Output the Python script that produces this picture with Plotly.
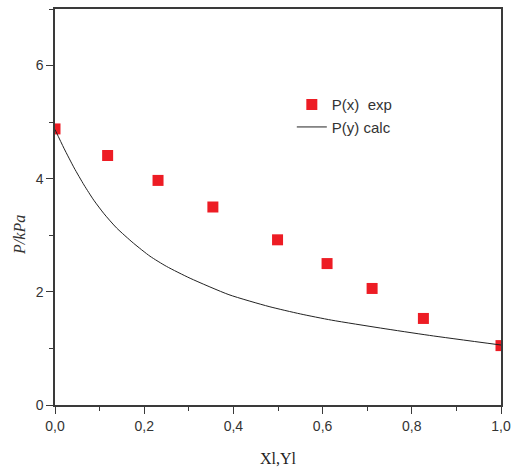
import plotly.graph_objects as go

# Experimental liquid-phase pressures
x_exp = [0.0, 0.118, 0.231, 0.354, 0.499, 0.610, 0.711, 0.826, 1.0]
p_exp = [4.88, 4.41, 3.97, 3.50, 2.92, 2.50, 2.06, 1.53, 1.05]

# Calculated vapour-phase curve
y_calc = [0.0, 0.02, 0.043, 0.065, 0.087, 0.11, 0.138, 0.176, 0.213, 0.25,
          0.303, 0.39, 0.48, 0.55, 0.62, 0.73, 0.84, 1.0]
p_calc = [4.87, 4.54, 4.19, 3.89, 3.62, 3.38, 3.13, 2.86, 2.63, 2.45,
          2.24, 1.95, 1.74, 1.61, 1.50, 1.36, 1.23, 1.06]

axis_col = "#3a3a3a"
tick_font = dict(family="Liberation Sans, Arial, sans-serif", size=14, color="#333333")

fig = go.Figure()
fig.add_trace(go.Scatter(
    x=x_exp, y=p_exp, mode="markers", name="P(x)  exp",
    marker=dict(symbol="square", size=11, color="#ED1C24",
                line=dict(width=0)),
))
fig.add_trace(go.Scatter(
    x=y_calc, y=p_calc, mode="lines", name="P(y) calc",
    line=dict(color="#222222", width=1, shape="spline", smoothing=0.6),
))

fig.update_layout(
    width=514, height=471,
    margin=dict(l=55, r=13, t=9, b=66),
    paper_bgcolor="white", plot_bgcolor="white",
    separators=", ",
    showlegend=True,
    legend=dict(x=0.531, y=0.80, xanchor="left", yanchor="top",
                bgcolor="rgba(0,0,0,0)",
                font=dict(family="Liberation Sans, Arial, sans-serif", size=15, color="#333333"),
                tracegroupgap=0, itemwidth=30),
    xaxis=dict(
        range=[0, 1], tickvals=[0, 0.2, 0.4, 0.6, 0.8, 1.0], tickformat=".1f",
        automargin=False,
        showgrid=False, zeroline=False,
        showline=True, linecolor=axis_col, linewidth=1.5, mirror=True,
        ticks="outside", ticklen=7, tickwidth=1.2, tickcolor=axis_col,
        minor=dict(dtick=0.1, ticks="outside", ticklen=4, tickcolor=axis_col, tickwidth=1),
        tickfont=tick_font,
        title=dict(text="Xl,Yl", standoff=20,
                   font=dict(family="Liberation Serif, Times New Roman, serif", size=16, color="#222222")),
    ),
    yaxis=dict(
        range=[0, 7], tickvals=[0, 2, 4, 6],
        automargin=False,
        showgrid=False, zeroline=False,
        showline=True, linecolor=axis_col, linewidth=1.5, mirror=True,
        ticks="outside", ticklen=7, tickwidth=1.2, tickcolor=axis_col,
        minor=dict(dtick=1, ticks="outside", ticklen=4, tickcolor=axis_col, tickwidth=1),
        tickfont=tick_font,
    ),
    annotations=[dict(
        text="<i>P/kPa</i>", textangle=-90, showarrow=False,
        xref="paper", yref="paper", x=-0.078, y=0.43,
        xanchor="center", yanchor="middle",
        font=dict(family="Liberation Serif, Times New Roman, serif", size=16, color="#333333"),
    )],
)

fig.write_html("out.html")
